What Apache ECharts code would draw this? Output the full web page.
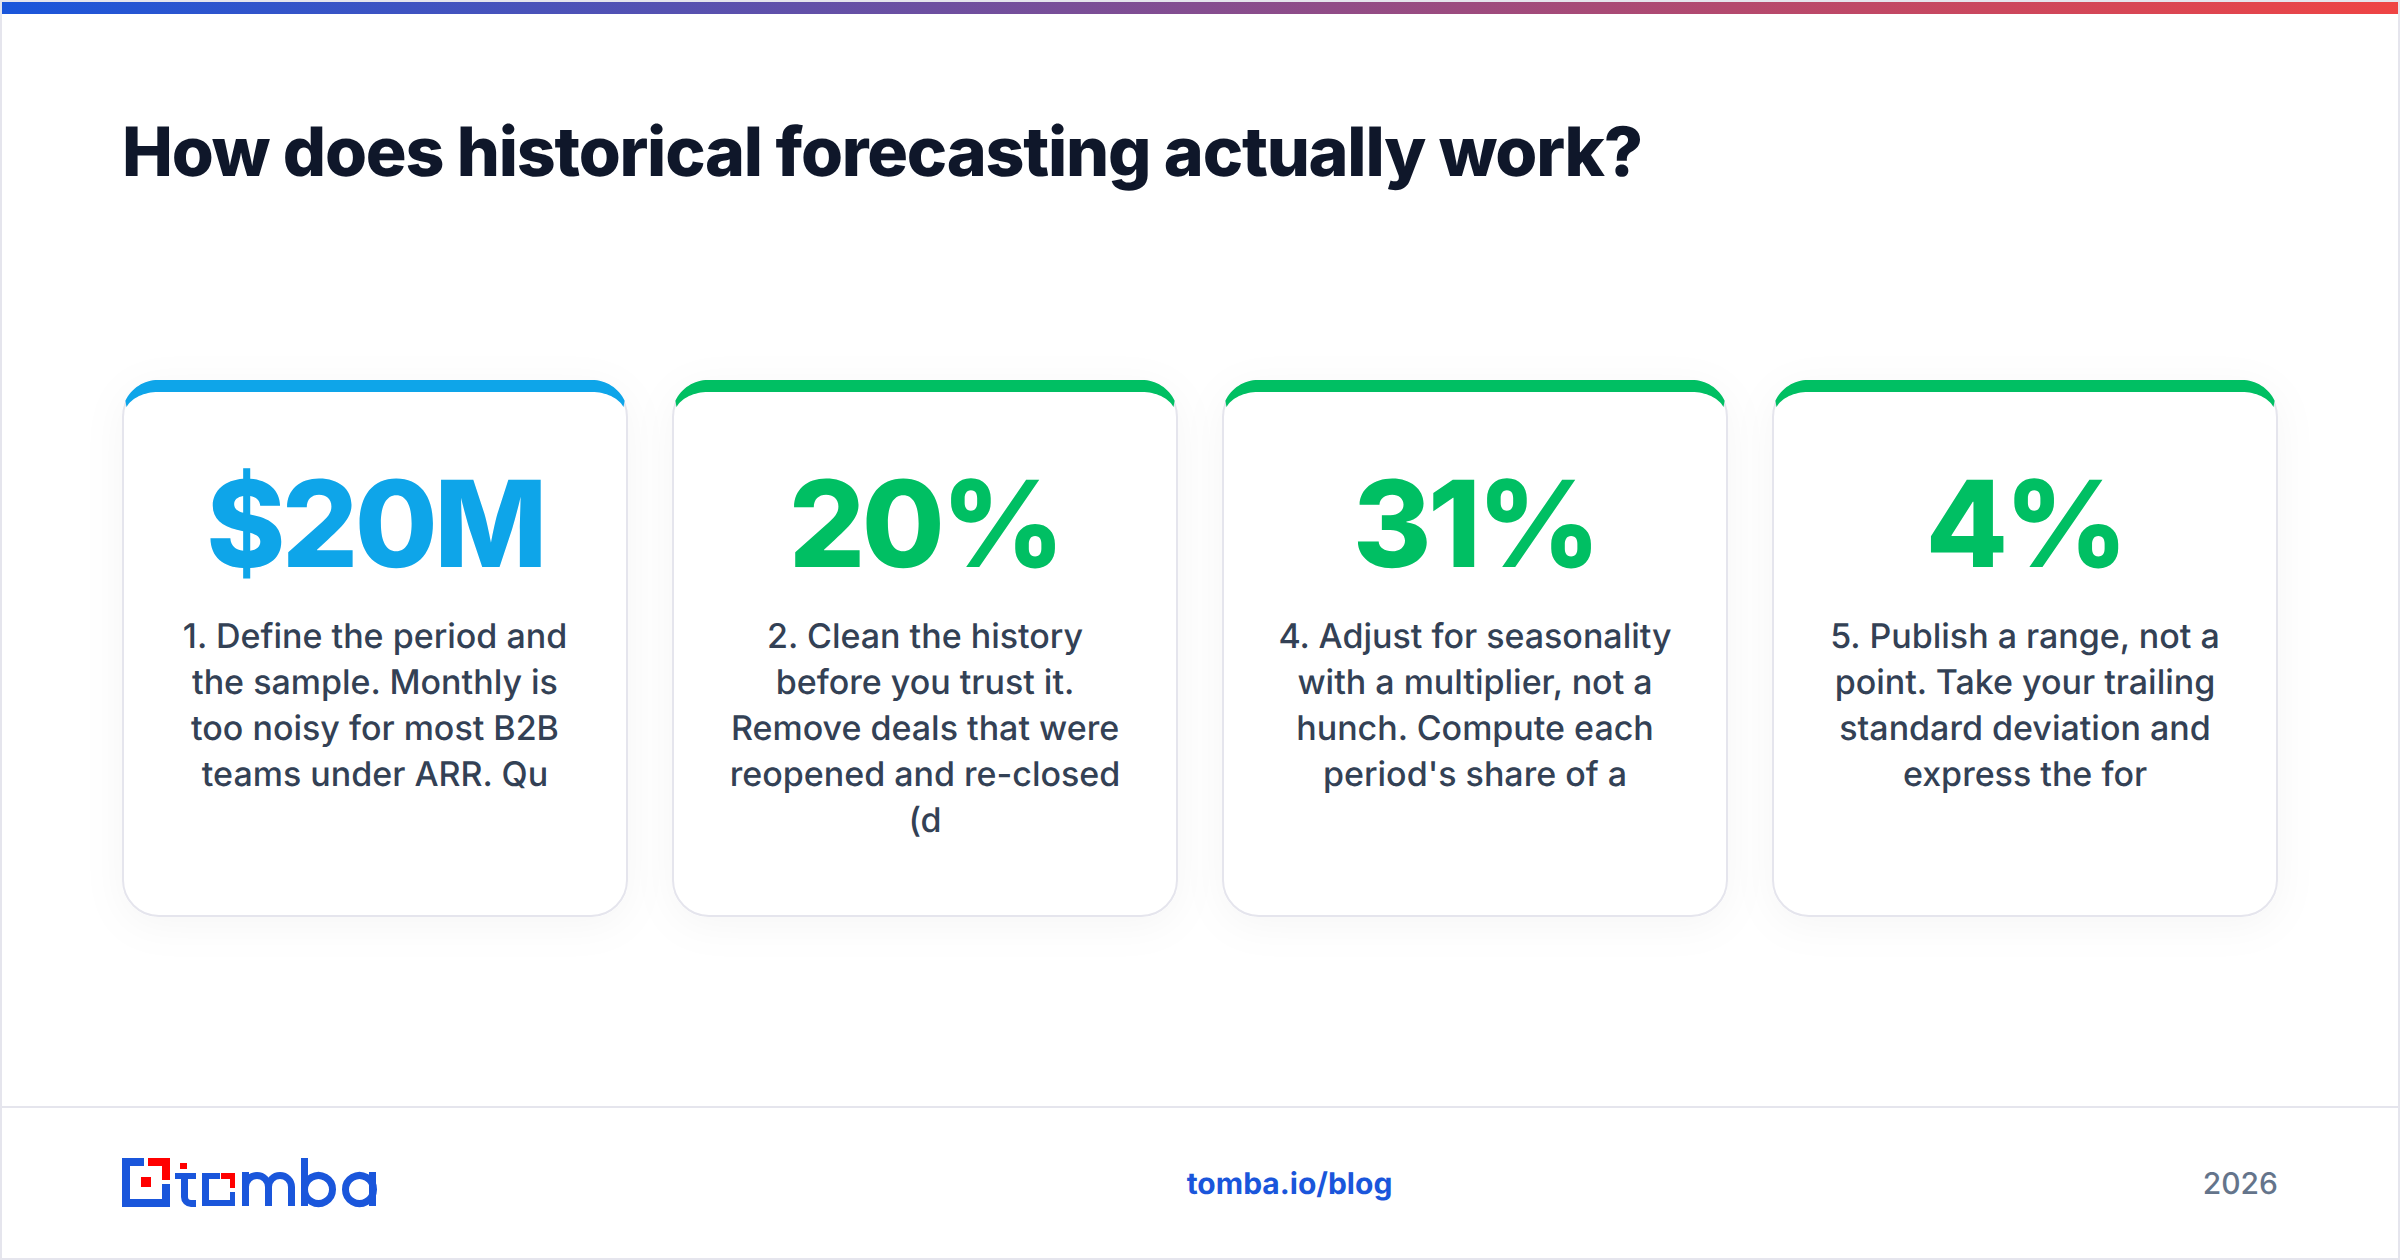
<!DOCTYPE html>
<html>
<head>
<meta charset="utf-8">
<title>How does historical forecasting actually work?</title>
<script src="https://cdn.jsdelivr.net/npm/echarts@6/dist/echarts.min.js"></script>
<style>
html, body { margin: 0; padding: 0; background: #fff; }
#main { width: 2400px; height: 1260px; }
#main text { text-rendering: geometricPrecision; }
/* the svg renderer keeps the font in each text's style attribute */
#main text[style*="68px"] { letter-spacing: -1.23px; }
#main text[style*="120px"] { letter-spacing: -3.6px; }
</style>
</head>
<body>
<div id="main"></div>
<script>
var titleText = 'How does historical forecasting actually work?';
var statValues = ['$20M', '20%', '31%', '4%'];
var stepLines = [
	['1. Define the period and', 'the sample. Monthly is', 'too noisy for most B2B', 'teams under ARR. Qu'],
	['2. Clean the history', 'before you trust it.', 'Remove deals that were', 'reopened and re-closed', '(d'],
	['4. Adjust for seasonality', 'with a multiplier, not a', 'hunch. Compute each', "period's share of a"],
	['5. Publish a range, not a', 'point. Take your trailing', 'standard deviation and', 'express the for']
];
var footerLink = 'tomba.io/blog';
var footerYear = '2026';

var fontName = 'Inter';
var blue = '#1a56db';
var red = '#ff0000';
var accents = ['#0ea5e9', '#00bf63', '#00bf63', '#00bf63'];
var lineColor = '#e5e5ed';

var cardW = 506, cardGap = 44, cardLeft = 122, cardTop = 380, cardH = 537;
var items = [];

function box(x, y, w, h, color) {
	items.push({ type: 'rect', shape: { x: x, y: y, width: w, height: h }, style: { fill: color } });
}

function label(text, x, y, font, color, align, valign, lineHeight) {
	items.push({
		type: 'text',
		x: x,
		y: y,
		style: {
			text: text,
			font: font,
			fill: color,
			align: align,
			verticalAlign: valign,
			lineHeight: lineHeight
		}
	});
}

// 椭圆弧上的点
function arcPoints(cx, cy, rx, ry, from, to) {
	var pts = [];
	for (var k = 0; k <= 16; k++) {
		var a = (from + (to - from) * k / 16) * Math.PI / 180;
		pts.push([cx + rx * Math.cos(a), cy + ry * Math.sin(a)]);
	}
	return pts;
}

// 卡片顶部的彩色月牙
function cardCap(x, y, w, color) {
	var cxL = x + 36, cxR = x + w - 36, cy = y + 36;
	var pts = []
		.concat(arcPoints(cxL, cy, 36, 36, 205, 270))
		.concat(arcPoints(cxR, cy, 36, 36, 270, 335))
		.concat(arcPoints(cxR, cy, 34, 24, 338, 270))
		.concat(arcPoints(cxL, cy, 34, 24, 270, 202));
	items.push({ type: 'polygon', shape: { points: pts }, style: { fill: color } });
}

// logo
function logo() {
	// 方框图标
	box(122, 1158, 22, 8, blue);
	box(122, 1158, 8, 49, blue);
	box(122, 1199, 48, 8, blue);
	box(162, 1184, 8, 23, blue);
	box(148, 1158, 22, 8, red);
	box(162, 1158, 8, 22, red);
	box(141, 1177, 10, 10, red);
	// t
	box(180, 1163, 7, 6, red);
	box(175, 1173, 21, 6, blue);
	box(181, 1173, 7, 24, blue);
	box(191, 1200, 5, 7, blue);
	items.push({
		type: 'arc',
		shape: { cx: 191, cy: 1197, r: 6.5, startAngle: Math.PI / 2, endAngle: Math.PI, clockwise: true },
		style: { fill: null, stroke: blue, lineWidth: 7 }
	});
	// o
	box(202, 1173, 18, 6, blue);
	box(202, 1173, 7, 33, blue);
	box(202, 1200, 33, 6, blue);
	box(230, 1192, 5, 14, blue);
	box(221, 1173, 14, 6, red);
	box(230, 1173, 5, 15, red);
	// m
	box(242, 1172, 7, 34, blue);
	box(265, 1187, 7, 19, blue);
	box(288, 1187, 7, 19, blue);
	[257, 280].forEach(function (cx) {
		items.push({
			type: 'arc',
			shape: { cx: cx, cy: 1187, r: 11.5, startAngle: Math.PI, endAngle: Math.PI * 2, clockwise: true },
			style: { fill: null, stroke: blue, lineWidth: 7 }
		});
	});
	// b
	box(301, 1158, 7, 48, blue);
	items.push({ type: 'circle', shape: { cx: 318.5, cy: 1189.5, r: 14 }, style: { fill: null, stroke: blue, lineWidth: 7 } });
	// a
	box(369, 1172, 7, 34, blue);
	items.push({ type: 'circle', shape: { cx: 359.5, cy: 1189.5, r: 14 }, style: { fill: null, stroke: blue, lineWidth: 7 } });
}

// 外框和顶部渐变条
items.push({
	type: 'rect',
	shape: { x: 1, y: 1, width: 2398, height: 1258 },
	style: { fill: '#fff', stroke: lineColor, lineWidth: 2 }
});
items.push({
	type: 'rect',
	shape: { x: 2, y: 2, width: 2396, height: 12 },
	style: {
		fill: {
			type: 'linear', x: 0, y: 0, x2: 1, y2: 0,
			colorStops: [{ offset: 0, color: '#1a56db' }, { offset: 1, color: '#ef4444' }]
		}
	}
});

label(titleText, 122, 151.5, '800 68px ' + fontName, '#0f172a', 'left', 'middle');

statValues.forEach(function (value, i) {
	var x = cardLeft + i * (cardW + cardGap);
	items.push({
		type: 'rect',
		shape: { x: x + 1, y: cardTop + 1, width: cardW - 2, height: cardH - 2, r: 36 },
		style: {
			fill: '#fff',
			stroke: lineColor,
			lineWidth: 2,
			shadowColor: 'rgba(15,23,42,0.04)',
			shadowBlur: 40,
			shadowOffsetY: 8
		}
	});
	cardCap(x, cardTop, cardW, accents[i]);
	label(value, x + cardW / 2, 523, '800 120px ' + fontName, accents[i], 'center', 'middle');
	label(stepLines[i].join('\n'), x + cardW / 2, 613.5, '500 34px ' + fontName, '#334155', 'center', 'top', 45.9);
});

// 页脚
box(2, 1106, 2396, 2, lineColor);
logo();
label(footerLink, 1289.5, 1184, '700 30px ' + fontName, blue, 'center', 'middle');
label(footerYear, 2278, 1184, '500 30px ' + fontName, '#64748b', 'right', 'middle');

var myChart = echarts.init(document.getElementById('main'), null, { renderer: 'svg' });
myChart.setOption({
	animation: false,
	backgroundColor: '#fff',
	graphic: { elements: items }
});
window.addEventListener('resize', function () {
	myChart.resize();
});
</script>
</body>
</html>
